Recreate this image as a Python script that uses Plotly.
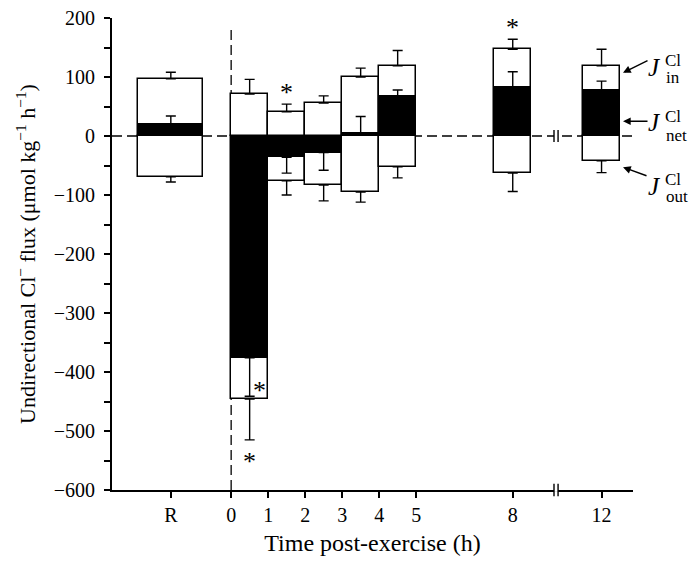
import plotly.graph_objects as go

# ---- data (µmol kg-1 h-1) ----
periods = ["R", "0-1", "1-2", "2-3", "3-4", "4-5", "8", "12"]
j_in = [97, 71, 41, 56, 100, 119, 147, 119]
j_in_se = [11, 25, 13, 12, 15, 26, 17, 28]
j_out = [-69, -446, -76, -83, -95, -52, -63, -42]
j_out_se = [9, 69, 24, 27, 17, 19, 31, 20]
j_net = [20, -376, -36, -28, 5, 68, 83, 78]
j_net_se = [14, 65, 27, 30, 28, 10, 26, 15]
sig_in = [False, False, True, False, False, False, True, False]
sig_out = [False, True, False, False, False, False, False, False]
sig_net = [False, True, False, False, False, False, False, False]

tick_labels = ["R", "0", "1", "2", "3", "4", "5", "8", "12"]

# ---- layout of the (broken) time axis ----
bar_center = [-1.63, 0.5, 1.5, 2.5, 3.5, 4.5, 7.61, 10.01]
bar_width = [1.76, 1, 1, 1, 1, 1, 1, 1]
tick_pos = [-1.63, 0, 1, 2, 3, 4, 5, 7.61, 10.01]
x_break = 8.78
XR = [-3.22, 10.86]
YR = [-600, 200]

SERIF = "Liberation Serif, Times New Roman, serif"
BLACK = "black"


def err(vals, up):
    if up:
        return dict(type="data", symmetric=False, array=vals, arrayminus=[0] * len(vals),
                    color=BLACK, thickness=1.4, width=5)
    return dict(type="data", symmetric=False, array=[0] * len(vals), arrayminus=vals,
                color=BLACK, thickness=1.4, width=5)


fig = go.Figure()
fig.add_trace(go.Bar(x=bar_center, y=j_out, width=bar_width, marker_color="white",
                     marker_line=dict(color=BLACK, width=1.5), error_y=err(j_out_se, False),
                     name="J out", showlegend=False))
fig.add_trace(go.Bar(x=bar_center, y=j_in, width=bar_width, marker_color="white",
                     marker_line=dict(color=BLACK, width=1.5), error_y=err(j_in_se, True),
                     name="J in", showlegend=False))
net_up = [s if v >= 0 else 0 for v, s in zip(j_net, j_net_se)]
net_dn = [s if v < 0 else 0 for v, s in zip(j_net, j_net_se)]
fig.add_trace(go.Bar(x=bar_center, y=j_net, width=bar_width, marker_color=BLACK,
                     marker_line=dict(color=BLACK, width=1),
                     error_y=dict(type="data", symmetric=False, array=net_up, arrayminus=net_dn,
                                  color=BLACK, thickness=1.4, width=5),
                     name="J net", showlegend=False))

shapes = []
DASH = "10px,5px"
shapes.append(dict(type="line", xref="x", yref="y", x0=XR[0], x1=XR[1], y0=0, y1=0,
                   line=dict(color=BLACK, width=1.3, dash=DASH), layer="below"))
shapes.append(dict(type="line", xref="x", yref="y", x0=0, x1=0, y0=YR[0], y1=186,
                   line=dict(color=BLACK, width=1.3, dash=DASH), layer="below"))
# axis break marks
for yref, y0, y1, yc0, yc1 in [("paper", -0.013, 0.013, -0.004, 0.004), ("y", -10, 10, -3, 3)]:
    shapes.append(dict(type="rect", xref="x", yref=yref, x0=x_break - 0.055, x1=x_break + 0.055,
                       y0=yc0, y1=yc1, fillcolor="white", line=dict(width=0), layer="above"))
    for dx in (-0.055, 0.055):
        shapes.append(dict(type="line", xref="x", yref=yref, x0=x_break + dx, x1=x_break + dx,
                           y0=y0, y1=y1, line=dict(color=BLACK, width=1.4), layer="above"))

ann = []
star = dict(text="*", showarrow=False, font=dict(family=SERIF, size=26, color=BLACK),
            xanchor="center", yanchor="middle")
for i, c in enumerate(bar_center):
    if sig_in[i]:
        ann.append(dict(star, x=c, y=j_in[i] + j_in_se[i] + 20))
    if sig_out[i]:
        ann.append(dict(star, x=c, y=j_out[i] - j_out_se[i] - 36))
    if sig_net[i]:
        ann.append(dict(star, x=c + 0.27, y=j_net[i] - j_net_se[i] + 10))

# J labels with arrows, pointing at the 12 h bar
c12 = bar_center[-1]
lab = [("in", j_in[-1] - 12, 26, -13, 0.896, 0.911, 0.873),
       ("net", 25, 26, 0, 0.778, 0.791, 0.752),
       ("out", j_out[-1] - 11, 25, 9, 0.644, 0.657, 0.621)]
for sub, yh, axp, ayp, yj, ycl, ysub in lab:
    ann.append(dict(x=c12 + 0.58, y=yh, ax=axp, ay=ayp, text="", showarrow=True,
                    arrowhead=2, arrowsize=1.1, arrowwidth=1.4, arrowcolor=BLACK))
    ann.append(dict(xref="paper", yref="paper", x=1.058, y=yj, text="<i>J</i>", showarrow=False,
                    xanchor="right", yanchor="middle", font=dict(family=SERIF, size=25, color=BLACK)))
    ann.append(dict(xref="paper", yref="paper", x=1.058, y=ycl, text="Cl", showarrow=False,
                    xanchor="left", yanchor="middle", font=dict(family=SERIF, size=17, color=BLACK)))
    ann.append(dict(xref="paper", yref="paper", x=1.059, y=ysub, text=sub, showarrow=False,
                    xanchor="left", yanchor="middle", font=dict(family=SERIF, size=17, color=BLACK)))

# the page body adds an 8px margin, so the figure is 8px smaller than the window
fig.update_layout(
    width=689, height=558,
    margin=dict(l=104, r=64, t=10, b=76, autoexpand=False),
    paper_bgcolor="white", plot_bgcolor="white",
    barmode="overlay", bargap=0,
    font=dict(family=SERIF, size=20, color=BLACK),
    shapes=shapes, annotations=ann, showlegend=False,
)
fig.update_xaxes(range=XR, tickmode="array", tickvals=tick_pos, ticktext=tick_labels,
                 showline=True, linecolor=BLACK, linewidth=2, ticks="outside", ticklen=6,
                 tickwidth=1.5, tickcolor=BLACK, showgrid=False, zeroline=False,
                 ticklabeloverflow="allow", automargin=False,
                 title=dict(text="Time post-exercise (h)", font=dict(size=24), standoff=9))
fig.update_yaxes(range=YR, tickmode="linear", tick0=0, dtick=100,
                 showline=True, linecolor=BLACK, linewidth=2, ticks="outside", ticklen=6,
                 tickwidth=1.5, tickcolor=BLACK, showgrid=False, zeroline=False,
                 ticklabeloverflow="allow", ticklabelstandoff=5, automargin=False,
                 minor=dict(dtick=50, ticks="outside", ticklen=6, tickwidth=1.5, tickcolor=BLACK,
                            showgrid=False),
                 title=dict(text="Undirectional Cl<sup>−</sup> flux (μmol kg<sup>−1</sup> h<sup>−1</sup>)",
                            font=dict(size=22), standoff=12))

fig.write_html("out.html")
